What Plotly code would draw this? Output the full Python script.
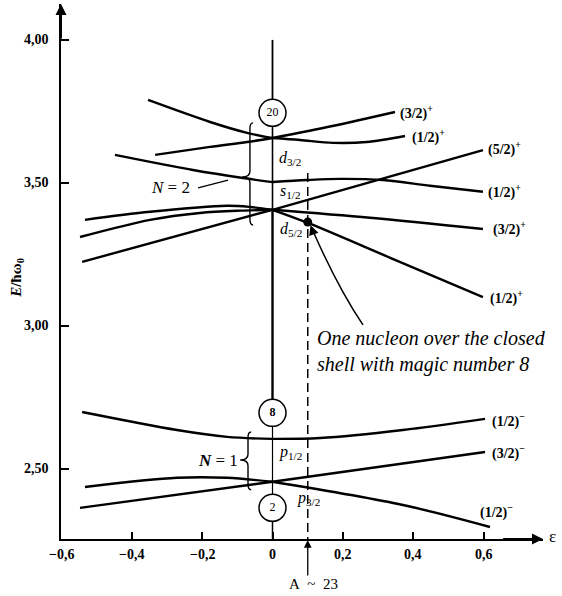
import plotly.graph_objects as go

# ---------------- data ----------------
# Each level: left branch (eps <= 0) and right branch (eps >= 0)
# N = 2 shell
d32a_left_eps = [-0.353, -0.177, -0.072, 0.0]
d32a_left_E = [3.790, 3.713, 3.675, 3.657]
d32a_right_eps = [0.0, 0.078, 0.172, 0.267, 0.376]
d32a_right_E = [3.657, 3.650, 3.640, 3.643, 3.664]

d32b_left_eps = [-0.333, -0.177, -0.072, 0.0]
d32b_left_E = [3.598, 3.626, 3.643, 3.657]
d32b_right_eps = [0.0, 0.170, 0.3475]
d32b_right_E = [3.657, 3.699, 3.748]

s12_left_eps = [-0.447, -0.2255, -0.0837, 0.0]
s12_left_E = [3.598, 3.545, 3.517, 3.503]
s12_right_eps = [0.0, 0.098, 0.191, 0.3135, 0.447, 0.597]
s12_right_E = [3.503, 3.510, 3.514, 3.510, 3.490, 3.469]

d52a_left_eps = [-0.532, -0.3475, -0.129, -0.064, 0.0]
d52a_left_E = [3.371, 3.399, 3.420, 3.416, 3.406]
d52a_right_eps = [0.0, 0.2766, 0.597]
d52a_right_E = [3.406, 3.378, 3.339]

d52b_left_eps = [-0.546, -0.3475, -0.2057, -0.092, 0.0]
d52b_left_E = [3.311, 3.371, 3.395, 3.403, 3.406]
d52b_right_eps = [0.0, 0.1007, 0.3475, 0.597]
d52b_right_E = [3.406, 3.360, 3.231, 3.101]

d52c_eps = [-0.540, 0.0, 0.597]
d52c_E = [3.224, 3.406, 3.615]

# N = 1 shell
p12_left_eps = [-0.540, -0.271, -0.129, 0.0]
p12_left_E = [2.699, 2.636, 2.612, 2.605]
p12_right_eps = [0.0, 0.135, 0.370, 0.603]
p12_right_E = [2.605, 2.608, 2.636, 2.675]

p32a_left_eps = [-0.532, -0.271, -0.129, 0.0]
p32a_left_E = [2.437, 2.469, 2.469, 2.455]
p32a_right_eps = [0.0, 0.370, 0.617]
p32a_right_E = [2.455, 2.374, 2.297]

p32b_left_eps = [-0.546, 0.0]
p32b_left_E = [2.364, 2.455]
p32b_right_eps = [0.0, 0.603]
p32b_right_E = [2.455, 2.559]

# magic numbers (circles on eps = 0)
magic_labels = ["20", "<b>8</b>", "2"]
magic_E = [3.745, 2.696, 2.364]

# spherical levels at eps = 0
sph_labels = ["<i>d</i><sub>3/2</sub>", "<i>s</i><sub>1/2</sub>", "<i>d</i><sub>5/2</sub>",
              "<i>p</i><sub>1/2</sub>", "<i>p</i><sub>3/2</sub>"]
sph_lab_eps = [0.013, 0.016, 0.016, 0.013, 0.064]
sph_lab_E = [3.587, 3.469, 3.336, 2.559, 2.395]

# right-hand Omega^pi labels
omega_labels = ["(3/2)<sup>+</sup>", "(1/2)<sup>+</sup>", "(5/2)<sup>+</sup>", "(1/2)<sup>+</sup>",
                "(3/2)<sup>+</sup>", "(1/2)<sup>+</sup>", "(1/2)<sup>−</sup>", "(3/2)<sup>−</sup>",
                "(1/2)<sup>−</sup>"]
omega_eps = [0.356, 0.390, 0.606, 0.606, 0.620, 0.611, 0.617, 0.617, 0.583]
omega_E = [3.748, 3.664, 3.619, 3.469, 3.339, 3.098, 2.671, 2.559, 2.350]

# axis ticks
x_ticks = [-0.6, -0.4, -0.2, 0.0, 0.2, 0.4, 0.6]
x_ticktext = ["−0,6", "−0,4", "−0,2", "0", "0,2", "0,4", "0,6"]
y_ticks = [2.5, 3.0, 3.5, 4.0]
y_ticktext = ["2,50", "3,00", "3,50", "4,00"]

# A ~ 23 deformation and the highlighted nucleon
eps_A23 = 0.1
dashed_top_E = 3.535
nucleon_E = 3.363

# axis ranges
X_RANGE = [-0.6, 0.7674]
Y_RANGE = [2.255, 4.1256]

# braces: (x, y_bottom, y_top, y_tip)
brace_N2 = (-0.064, 3.353, 3.710, 3.521)
brace_N1 = (-0.0695, 2.427, 2.629, 2.531)

SERIF = "Liberation Serif"
LW = 2.4

fig = go.Figure()

def add_line(xs, ys, width=LW, shape="spline", dash=None):
    fig.add_trace(go.Scatter(
        x=xs, y=ys, mode="lines",
        line=dict(color="black", width=width, shape=shape, smoothing=0.9, dash=dash),
        hoverinfo="skip", showlegend=False))

for xs, ys in [
    (d32a_left_eps, d32a_left_E), (d32a_right_eps, d32a_right_E),
    (d32b_left_eps, d32b_left_E), (d32b_right_eps, d32b_right_E),
    (s12_left_eps, s12_left_E), (s12_right_eps, s12_right_E),
    (d52a_left_eps, d52a_left_E), (d52a_right_eps, d52a_right_E),
    (d52b_left_eps, d52b_left_E), (d52b_right_eps, d52b_right_E),
    (d52c_eps, d52c_E),
    (p12_left_eps, p12_left_E), (p12_right_eps, p12_right_E),
    (p32a_left_eps, p32a_left_E), (p32a_right_eps, p32a_right_E),
    (p32b_left_eps, p32b_left_E), (p32b_right_eps, p32b_right_E),
]:
    add_line(xs, ys)

# vertical eps = 0 line, segment widths
add_line([0, 0], [4.0, magic_E[0]], width=1.8, shape="linear")
add_line([0, 0], [magic_E[0], d52a_left_E[-1]], width=1.6, shape="linear")
add_line([0, 0], [d52a_left_E[-1], magic_E[1]], width=2.4, shape="linear")
add_line([0, 0], [magic_E[1], magic_E[2]], width=1.2, shape="linear")
add_line([0, 0], [magic_E[2], Y_RANGE[0]], width=1.5, shape="linear")

# dashed A ~ 23 line
add_line([eps_A23, eps_A23], [dashed_top_E, Y_RANGE[0]], width=1.5, shape="linear", dash="9px,5px")

# magic-number circles
fig.add_trace(go.Scatter(
    x=[0, 0, 0], y=magic_E, mode="markers+text", text=magic_labels,
    textposition="middle center",
    textfont=dict(family=SERIF, size=12, color="black"),
    marker=dict(size=27, color="white", line=dict(color="black", width=1.5)),
    hoverinfo="skip", showlegend=False, cliponaxis=False))

# nucleon dot
fig.add_trace(go.Scatter(
    x=[eps_A23], y=[nucleon_E], mode="markers",
    marker=dict(size=9, color="black"), hoverinfo="skip", showlegend=False))

# curved arrow to the dot
p0 = (0.2567, 3.0035)
c0 = (0.1858, 3.133)
p2 = (0.1149, 3.332)
fig.add_shape(type="path", xref="x", yref="y",
              path=f"M {p0[0]},{p0[1]} Q {c0[0]},{c0[1]} {p2[0]},{p2[1]}",
              line=dict(color="black", width=1.5))
fig.add_annotation(x=0.108, y=3.352, ax=0.1165, ay=3.322, xref="x", yref="y",
                   axref="x", ayref="y", showarrow=True, arrowhead=2, arrowsize=1.3,
                   arrowwidth=1.5, arrowcolor="black", text="")

# braces
def brace_path(x, yb, yt, ym, h=0.009, d=0.022, c=0.02):
    return (f"M {x+h},{yt} Q {x},{yt} {x},{yt-c} L {x},{ym+c} "
            f"Q {x},{ym} {x-d},{ym} Q {x},{ym} {x},{ym-c} "
            f"L {x},{yb+c} Q {x},{yb} {x+h},{yb}")

for b in (brace_N2, brace_N1):
    fig.add_shape(type="path", xref="x", yref="y", path=brace_path(*b),
                  line=dict(color="black", width=1.4))

# N labels
fig.add_annotation(x=-0.288, y=3.483, text="<i>N</i> = 2", showarrow=False,
                   font=dict(family=SERIF, size=17, color="black"))
fig.add_shape(type="line", xref="x", yref="y", x0=-0.211, y0=3.483, x1=-0.126, y1=3.510,
              line=dict(color="black", width=1.3))
fig.add_annotation(x=-0.155, y=2.531, text="<b><i>N</i></b> = 1", showarrow=False,
                   font=dict(family=SERIF, size=17, color="black"))

# spherical labels
for t, xx, yy in zip(sph_labels, sph_lab_eps, sph_lab_E):
    fig.add_annotation(x=xx, y=yy, text=t, showarrow=False, xanchor="left",
                       font=dict(family=SERIF, size=16, color="black"))

# Omega labels
for t, xx, yy in zip(omega_labels, omega_eps, omega_E):
    fig.add_annotation(x=xx, y=yy, text="<b>" + t + "</b>", showarrow=False, xanchor="left",
                       font=dict(family=SERIF, size=14, color="black"))

# explanatory text
fig.add_annotation(x=0.120, y=2.909, xanchor="left", yanchor="middle", align="left",
                   text="<i>One nucleon over the closed<br>shell with magic number 8</i>",
                   showarrow=False, font=dict(family=SERIF, size=20, color="black"))

# tick labels as text (placed just outside the axes)
for v, t in zip(x_ticks, x_ticktext):
    fig.add_annotation(x=v, y=-0.012, xref="x", yref="paper", xanchor="center", yanchor="top",
                       text="<b>" + t + "</b>", showarrow=False,
                       font=dict(family=SERIF, size=14, color="black"))
for v, t in zip(y_ticks, y_ticktext):
    fig.add_annotation(x=-0.021, y=v, xref="paper", yref="y", xanchor="right", yanchor="middle",
                       text="<b>" + t + "</b>", showarrow=False,
                       font=dict(family=SERIF, size=14, color="black"))

# A ~ 23 arrow and label
fig.add_annotation(x=eps_A23, y=-0.002, xref="x", yref="paper",
                   ax=0, ay=37, axref="pixel", ayref="pixel",
                   showarrow=True, arrowhead=2, arrowsize=1.2,
                   arrowwidth=1.3, arrowcolor="black", text="")
fig.add_annotation(x=0.117, y=-0.085, xref="x", yref="paper", xanchor="center", yanchor="middle",
                   text="A\u00a0\u00a0~\u00a0\u00a023", showarrow=False,
                   font=dict(family=SERIF, size=15, color="black"))

# axis arrows
fig.add_annotation(x=X_RANGE[0], y=Y_RANGE[1], ax=X_RANGE[0], ay=4.0, xref="x", yref="y",
                   axref="x", ayref="y", showarrow=True, arrowhead=2, arrowsize=1.1,
                   arrowwidth=2, arrowcolor="black", text="")
fig.add_annotation(x=X_RANGE[1], y=Y_RANGE[0], ax=0.65, ay=Y_RANGE[0], xref="x", yref="y",
                   axref="x", ayref="y", showarrow=True, arrowhead=2, arrowsize=1.1,
                   arrowwidth=2, arrowcolor="black", text="")
fig.add_annotation(x=1.019, y=0.004, xref="paper", yref="paper", xanchor="center", yanchor="middle",
                   text="ε", showarrow=False,
                   font=dict(family=SERIF, size=17, color="black"))

# y-axis title
fig.add_annotation(x=-0.0913, y=3.168, xref="paper", yref="y", textangle=-90,
                   xanchor="center", yanchor="middle",
                   text="<b><i>E</i>/ħω<sub>0</sub></b>", showarrow=False,
                   font=dict(family=SERIF, size=15, color="black"))

fig.update_layout(
    width=562, height=596,
    margin=dict(l=61, r=19, t=4, b=57, pad=0),
    plot_bgcolor="white", paper_bgcolor="white",
    xaxis=dict(range=X_RANGE, showgrid=False, zeroline=False, showline=True,
               linecolor="black", linewidth=2, ticks="inside", ticklen=7, tickwidth=1.5,
               tickcolor="black", tickvals=x_ticks, showticklabels=False),
    yaxis=dict(range=Y_RANGE, showgrid=False, zeroline=False, showline=True,
               linecolor="black", linewidth=2, ticks="inside", ticklen=8, tickwidth=1.5,
               tickcolor="black", tickvals=y_ticks, showticklabels=False),
)

fig.write_html("out.html", config={"displayModeBar": False},
               post_script="document.body.style.margin='0';document.body.style.overflow='hidden';")
